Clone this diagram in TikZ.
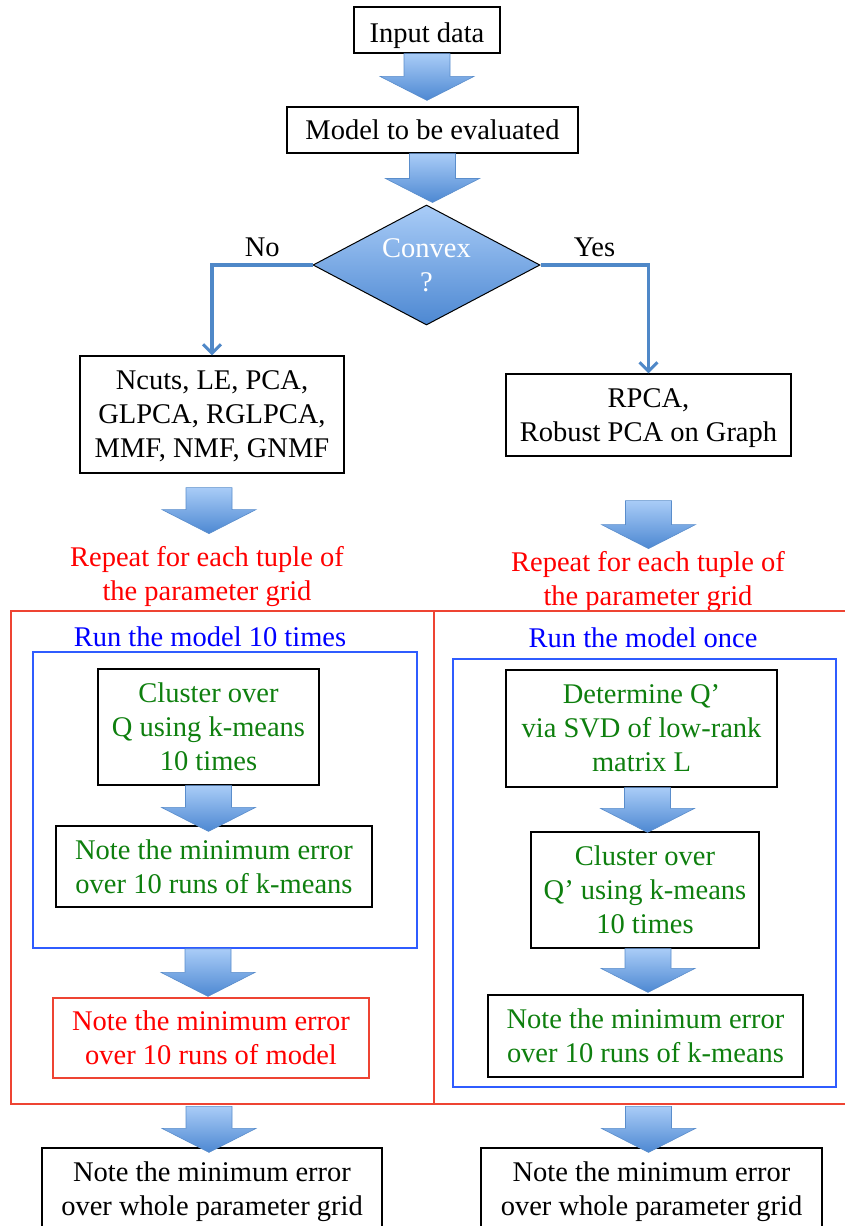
\documentclass[tikz,border=0pt]{standalone}
\usepackage{fontspec}
\setmainfont{Liberation Serif}
\usetikzlibrary{shapes.geometric, arrows.meta, calc}

\definecolor{fatline}{HTML}{5A8DCB}
\definecolor{fattop}{HTML}{A9CCF7}
\definecolor{fatbottom}{HTML}{4D88D2}
\definecolor{connblue}{HTML}{4F88C8}
\definecolor{gridred}{HTML}{EE4433}
\definecolor{runblue}{HTML}{2F5CFF}
\definecolor{stepgreen}{HTML}{0E7F0E}

\newcommand{\fatarrow}[2]{%
	\path [fatarr] let \p1 = #1, \p2 = #2 in
	(\x1-23pt,\y1) -- (\x1+23pt,\y1) -- (\x1+23pt,\y2+24pt) -- (\x1+47pt,\y2+24pt)
	-- (\x1,\y2) -- (\x1-47pt,\y2+24pt) -- (\x1-23pt,\y2+24pt) -- cycle;}

\begin{document}
\begin{tikzpicture}[x=1pt, y=-1pt, font=\fontsize{28.5}{34}\selectfont,
		box/.style = {draw, line width=1.2pt, align=center, inner sep=0pt},
		frame/.style = {draw=#1, line width=1.6pt, inner sep=0pt},
		fatarr/.style = {draw=fatline, line width=0.6pt, top color=fattop, bottom color=fatbottom},
		conn/.style = {draw=connblue, line width=3.5pt, -{Straight Barb[length=9pt, width=18pt, line width=3pt]}},
		decision/.style = {diamond, draw, line width=1pt, aspect=1.9, inner sep=0pt, align=center,
			text=white, top color=fattop, bottom color=fatbottom}]
	\useasboundingbox (0,0) rectangle (844,1226);

		\node [box, minimum width=146, minimum height=46, text height=24pt, text depth=0pt] (input) at (427,30) {Input data};
		\node [box, minimum width=291, minimum height=46] (model) at (432.5,130) {Model to be evaluated};
		\node [decision, minimum width=227, minimum height=120, text depth=-6pt] (convex) at (426.5,265) {Convex\\?};

		\node [box, minimum width=264, minimum height=117, text depth=-4pt] (ncuts) at (212,414.5)
			{Ncuts, LE, PCA,\\GLPCA, RGLPCA,\\MMF, NMF, GNMF};
		\node [box, minimum width=285, minimum height=82, text depth=0pt] (rpca) at (648.5,415)
			{RPCA,\\Robust PCA on Graph};

		\draw [conn] (convex.west) -| node [above=3pt, pos=0.25, text=black] {No} (ncuts.north);
		\draw [conn] (convex.east) -| node [above=3pt, pos=0.25, text=black] {Yes} (rpca.north);

		\node [align=center, text=red] (repL) at (207,577) {Repeat for each tuple of\\the parameter grid};
		\node [align=center, text=red] (repR) at (648,582) {Repeat for each tuple of\\the parameter grid};

		\node [frame=gridred, minimum width=423, minimum height=493] (gridL) at (222.5,857.5) {};
		\node [frame=gridred, minimum width=436, minimum height=493] (gridR) at (652,857.5) {};

		\node [text=blue] (runL) at (210,637) {Run the model 10 times};
		\node [text=blue] (runR) at (643,638) {Run the model once};
		\node [frame=runblue, minimum width=384, minimum height=296] (blueL) at (225,800) {};
		\node [frame=runblue, minimum width=383, minimum height=428] (blueR) at (644.5,873) {};

		\node [box, text=stepgreen, minimum width=221, minimum height=116] (clusterL) at (208.5,727)
			{Cluster over\\Q using k-means\\10 times};
		\node [box, text=stepgreen, minimum width=316, minimum height=81] (kmeansL) at (214,866.5)
			{Note the minimum error\\over 10 runs of k-means};
		\node [box, draw=gridred, text=red, minimum width=316, minimum height=80] (modelL) at (211,1038)
			{Note the minimum error\\over 10 runs of model};

		\node [box, text=stepgreen, minimum width=271, minimum height=117] (svdR) at (641.5,728.5)
			{Determine Q’\\via SVD of low-rank\\matrix L};
		\node [box, text=stepgreen, minimum width=228, minimum height=116] (clusterR) at (645,890)
			{Cluster over\\Q’ using k-means\\10 times};
		\node [box, text=stepgreen, minimum width=315, minimum height=82] (kmeansR) at (645.5,1036)
			{Note the minimum error\\over 10 runs of k-means};

		\node [box, minimum width=340, minimum height=88] (finalL) at (212,1192)
			{Note the minimum error\\over whole parameter grid};
		\node [box, minimum width=341, minimum height=88] (finalR) at (651.5,1192)
			{Note the minimum error\\over whole parameter grid};

		\fatarrow{(input.south)}{($(model.north)+(0,-6)$)}
		\fatarrow{(model.south)}{($(convex.north)+(0,-2)$)}
		\fatarrow{($(ncuts.south)+(-3,14)$)}{($(ncuts.south)+(0,60)$)}
		\fatarrow{($(rpca.south)+(0,44)$)}{($(rpca.south)+(0,92)$)}
		\fatarrow{(clusterL.south)}{($(kmeansL.north)+(0,6)$)}
		\fatarrow{($(blueL.south)+(-17,0)$)}{($(modelL.north)+(0,-1)$)}
		\fatarrow{($(svdR.south)+(6,0)$)}{($(clusterR.north)+(0,1)$)}
		\fatarrow{($(clusterR.south)+(3,0)$)}{($(kmeansR.north)+(0,-2)$)}
		\fatarrow{($(finalL.north)+(-3,-41)$)}{($(finalL.north)+(0,5)$)}
		\fatarrow{($(finalR.north)+(-3,-41)$)}{($(finalR.north)+(0,5)$)}

	\end{tikzpicture}
\end{document}
